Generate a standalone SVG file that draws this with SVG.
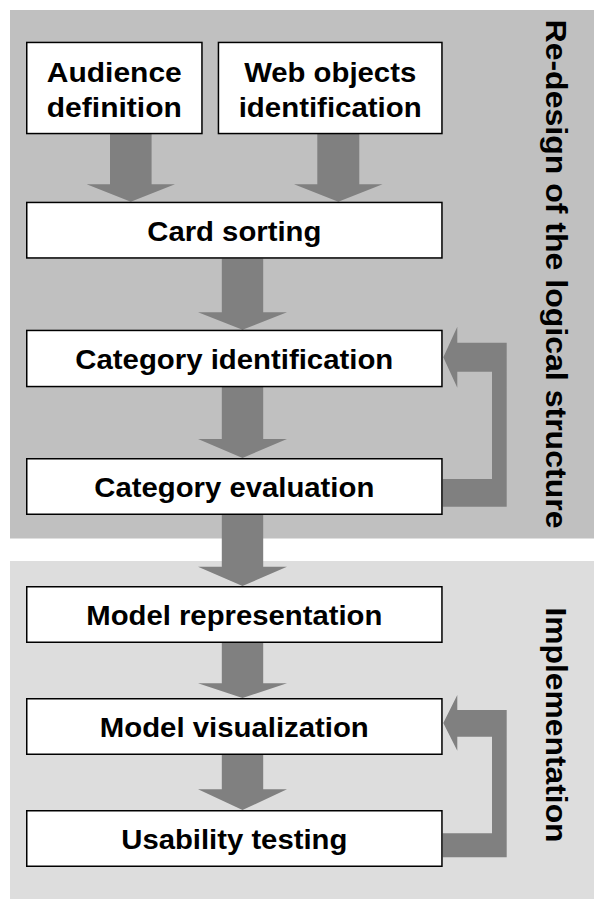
<svg xmlns="http://www.w3.org/2000/svg" width="594" height="899" viewBox="0 0 594 899">
<style>
.panel1{fill:#c0c0c0}
.panel2{fill:#dddddd}
.box{fill:#ffffff;stroke:#000000;stroke-width:1.5}
.arrow{fill:#808080}
.t{font-family:"Liberation Sans",Arial,sans-serif;font-weight:bold;font-size:27px;fill:#000000;text-anchor:middle}
.vt{font-family:"Liberation Sans",Arial,sans-serif;font-weight:bold;font-size:29.5px;fill:#000000}
</style>
<rect width="594" height="899" fill="#ffffff"/>
<g id="panel-redesign">
<rect class="panel1" x="10" y="10" width="584" height="528.5"/>
<text class="vt" transform="translate(545.7,19.5) rotate(90)" textLength="509" lengthAdjust="spacingAndGlyphs">Re-design of the logical structure</text>
</g>
<g id="panel-implementation">
<rect class="panel2" x="10" y="561" width="584" height="338"/>
<text class="vt" transform="translate(545.7,607.5) rotate(90)" textLength="235" lengthAdjust="spacingAndGlyphs">Implementation</text>
</g>
<g id="connectors">
<polygon class="arrow" points="110,134 151.6,134 151.6,184.3 175,184.3 130.8,201.7 86.6,184.3 110,184.3"/>
<polygon class="arrow" points="317.3,134 359.3,134 359.3,184.3 382.6,184.3 338.3,201.7 294,184.3 317.3,184.3"/>
<polygon class="arrow" points="221.8,258.5 263.2,258.5 263.2,312.3 287,312.3 242.5,329.7 198,312.3 221.8,312.3"/>
<polygon class="arrow" points="221.8,387 263.2,387 263.2,439 287,439 242.5,458 198,439 221.8,439"/>
<polygon class="arrow" points="221.8,515 263.2,515 263.2,566.7 287,566.7 242.5,586 198,566.7 221.8,566.7"/>
<polygon class="arrow" points="221.8,643 263.2,643 263.2,683.3 287,683.3 242.5,698 198,683.3 221.8,683.3"/>
<polygon class="arrow" points="221.8,755 263.2,755 263.2,789.3 287,789.3 242.5,810 198,789.3 221.8,789.3"/>
<polygon class="arrow" points="442.7,479 492,479 492,371.7 457.3,371.7 457.3,387.7 443.3,357.2 457.3,326.7 457.3,342.7 506.7,342.7 506.7,506.7 442.7,506.7"/>
<polygon class="arrow" points="442.7,833.3 492,833.3 492,736.7 457.3,736.7 457.3,750.7 443.3,723 457.3,695 457.3,710 506.7,710 506.7,857.3 442.7,857.3"/>
</g>
<g id="audience-definition">
<rect class="box" x="26.75" y="42.45" width="175.2" height="91.1"/>
<text class="t" x="114.3" y="81.7" textLength="135" lengthAdjust="spacingAndGlyphs">Audience</text>
<text class="t" x="114.3" y="116.7" textLength="135" lengthAdjust="spacingAndGlyphs">definition</text>
</g>
<g id="web-objects-identification">
<rect class="box" x="218.45" y="42.45" width="223.5" height="91.1"/>
<text class="t" x="330.2" y="81.7" textLength="172" lengthAdjust="spacingAndGlyphs">Web objects</text>
<text class="t" x="330.2" y="116.7" textLength="183" lengthAdjust="spacingAndGlyphs">identification</text>
</g>
<g id="card-sorting">
<rect class="box" x="26.75" y="202.45" width="415.2" height="55.5"/>
<text class="t" x="234.3" y="241" textLength="174" lengthAdjust="spacingAndGlyphs">Card sorting</text>
</g>
<g id="category-identification">
<rect class="box" x="26.75" y="330.45" width="415.2" height="56.1"/>
<text class="t" x="234.3" y="369.2" textLength="318" lengthAdjust="spacingAndGlyphs">Category identification</text>
</g>
<g id="category-evaluation">
<rect class="box" x="26.75" y="458.75" width="415.2" height="55.5"/>
<text class="t" x="234.3" y="497.2" textLength="280" lengthAdjust="spacingAndGlyphs">Category evaluation</text>
</g>
<g id="model-representation">
<rect class="box" x="26.75" y="586.75" width="415.2" height="55.5"/>
<text class="t" x="234.3" y="625.2" textLength="296" lengthAdjust="spacingAndGlyphs">Model representation</text>
</g>
<g id="model-visualization">
<rect class="box" x="26.75" y="698.75" width="415.2" height="55.5"/>
<text class="t" x="234.3" y="737.2" textLength="269" lengthAdjust="spacingAndGlyphs">Model visualization</text>
</g>
<g id="usability-testing">
<rect class="box" x="26.75" y="810.75" width="415.2" height="55.5"/>
<text class="t" x="234.3" y="849.2" textLength="226" lengthAdjust="spacingAndGlyphs">Usability testing</text>
</g>
</svg>
